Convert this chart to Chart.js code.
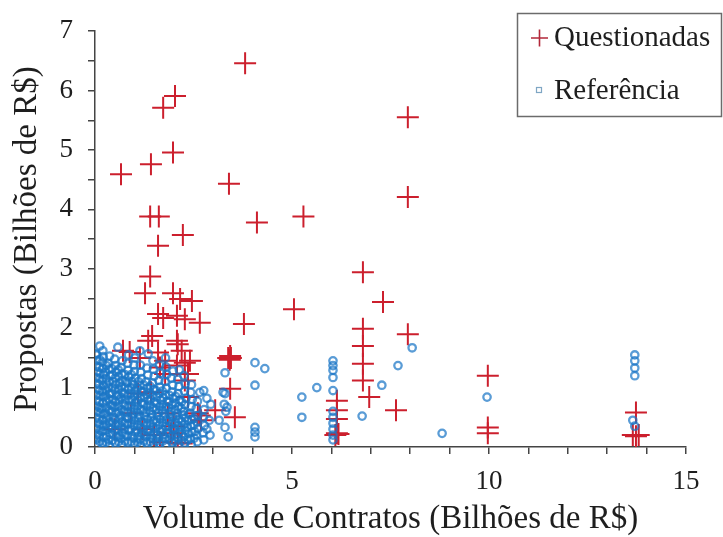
<!DOCTYPE html>
<html>
<head>
<meta charset="utf-8">
<script src="https://cdn.jsdelivr.net/npm/chart.js@4/dist/chart.umd.min.js"></script>
<style>
  html, body { margin: 0; padding: 0; background: #ffffff; }
  #wrap { width: 723px; height: 537px; }
</style>
</head>
<body>
<div id="wrap"><canvas id="c" width="723" height="537"></canvas></div>
<script>
// Series labels
const seriesNames = ['Questionadas', 'Referência'];
const axisTitles = { x: 'Volume de Contratos (Bilhões de R$)', y: 'Propostas (Bilhões de R$)' };

// Questionadas: [volume, proposta] in billions of R$
const questionadas = [
  [3.81,6.46],[2.03,5.91],[1.73,5.71],[1.98,4.96],[1.42,4.76],[0.66,4.59],[3.40,4.43],
  [1.40,3.88],[1.62,3.88],[4.11,3.78],[5.29,3.88],[2.23,3.57],[1.60,3.39],[7.94,5.55],[7.94,4.21],
  [6.80,2.94],[7.31,2.44],[5.05,2.32],[3.78,2.07],[6.80,1.99],[7.94,1.90],[6.80,1.70],[6.80,1.40],
  [6.80,1.12],[6.96,0.84],[7.64,0.62],
  [6.14,0.78],[6.14,0.62],[6.14,0.47],[6.14,0.23],[6.10,0.20],[6.18,0.22],
  [9.97,1.20],[9.97,0.33],[9.97,0.23],
  [13.73,0.58],[13.65,0.20],[13.80,0.20],[13.73,0.18],
  [3.38,1.50],[3.45,1.50],[3.42,1.47],[3.43,1.53],[3.43,0.98],[3.55,0.50],[3.05,0.62],[2.66,0.53],
  [2.69,0.45],[2.61,0.57],
  [1.40,2.87],[1.27,2.59],[1.98,2.59],[2.16,2.49],[2.46,2.46],[1.60,2.24],[2.08,2.21],[1.73,2.17],
  [2.28,2.15],[2.66,2.09],[1.45,1.87],[2.08,1.79],[0.71,1.62],[0.88,1.60],[1.60,1.59],[1.14,1.50],
  [2.41,1.45],[2.20,1.62],[1.65,1.34],[2.08,1.37],[1.35,1.79],[2.10,1.73],[1.78,1.45],[2.28,1.42],
  [1.78,1.23],[2.36,1.23],[2.28,1.12],[1.09,0.90],[1.42,0.92],[2.36,0.84],[1.85,0.57],[0.91,0.57],
  [1.93,0.23],[2.10,0.07],[1.65,0.08],[2.20,0.06],[1.50,0.20],[2.00,0.35],[1.20,0.30],[0.50,0.30]
];

// Referência: [volume, proposta] in billions of R$
const referencia = [
  [0.05,0.04],[0.03,0.13],[0.06,0.22],[0.04,0.31],[0.07,0.41],[0.03,0.50],[0.05,0.60],[0.06,0.69],
  [0.04,0.79],[0.03,0.88],[0.06,0.98],[0.05,1.07],[0.04,1.17],[0.06,1.27],[0.03,1.36],[0.05,1.46],[0.04,1.55],
  [0.19,0.06],[0.22,0.16],[0.18,0.26],[0.21,0.35],[0.20,0.45],[0.23,0.55],[0.17,0.64],[0.20,0.74],
  [0.22,0.84],[0.19,0.93],[0.21,1.03],[0.18,1.12],[0.22,1.22],[0.20,1.32],[0.19,1.43],[0.21,1.52],[0.20,1.62],
  [0.36,0.03],[0.34,0.12],[0.38,0.23],[0.35,0.33],[0.37,0.42],[0.33,0.52],[0.36,0.62],[0.39,0.71],
  [0.35,0.81],[0.37,0.90],[0.34,1.00],[0.36,1.10],[0.38,1.20],[0.35,1.31],[0.33,1.41],[0.37,1.53],
  [0.52,0.07],[0.55,0.17],[0.50,0.27],[0.53,0.37],[0.51,0.46],[0.54,0.57],[0.49,0.67],[0.52,0.76],
  [0.55,0.86],[0.50,0.96],[0.53,1.05],[0.51,1.16],[0.54,1.26],[0.52,1.37],[0.50,1.48],[0.58,1.68],
  [0.68,0.04],[0.66,0.14],[0.70,0.24],[0.67,0.34],[0.69,0.43],[0.65,0.53],[0.68,0.63],[0.71,0.73],
  [0.66,0.83],[0.69,0.92],[0.67,1.02],[0.70,1.12],[0.68,1.23],[0.66,1.34],[0.69,1.45],
  [0.84,0.08],[0.82,0.18],[0.86,0.28],[0.83,0.38],[0.85,0.48],[0.81,0.58],[0.84,0.68],[0.87,0.78],
  [0.83,0.87],[0.85,0.97],[0.82,1.08],[0.86,1.18],[0.84,1.29],[0.83,1.41],[0.85,1.55],
  [1.00,0.05],[0.98,0.15],[1.02,0.25],[0.99,0.35],[1.01,0.45],[0.97,0.55],[1.00,0.65],[1.03,0.75],
  [0.99,0.85],[1.01,0.95],[0.98,1.05],[1.02,1.16],[1.00,1.27],[0.99,1.38],[1.01,1.50],
  [1.16,0.03],[1.14,0.13],[1.18,0.23],[1.15,0.33],[1.17,0.43],[1.13,0.53],[1.16,0.63],[1.19,0.74],
  [1.15,0.84],[1.17,0.94],[1.14,1.04],[1.18,1.15],[1.16,1.26],[1.15,1.38],[1.14,1.62],
  [1.32,0.07],[1.30,0.17],[1.34,0.27],[1.31,0.37],[1.33,0.47],[1.29,0.58],[1.32,0.68],[1.35,0.78],
  [1.31,0.88],[1.33,0.99],[1.30,1.10],[1.34,1.21],[1.32,1.33],[1.35,1.57],
  [1.48,0.04],[1.46,0.14],[1.50,0.24],[1.47,0.34],[1.49,0.45],[1.45,0.55],[1.48,0.66],[1.51,0.76],
  [1.47,0.87],[1.49,0.97],[1.46,1.08],[1.50,1.19],[1.48,1.31],[1.47,1.45],
  [1.64,0.06],[1.62,0.16],[1.66,0.26],[1.63,0.37],[1.65,0.47],[1.61,0.58],[1.64,0.68],[1.67,0.79],
  [1.63,0.90],[1.65,1.01],[1.62,1.12],[1.66,1.24],[1.64,1.38],
  [1.80,0.04],[1.78,0.15],[1.82,0.25],[1.79,0.35],[1.81,0.46],[1.77,0.56],[1.80,0.67],[1.83,0.77],
  [1.79,0.88],[1.81,0.99],[1.78,1.10],[1.82,1.22],[1.80,1.35],[1.79,1.50],
  [1.96,0.08],[1.94,0.18],[1.98,0.29],[1.95,0.39],[1.97,0.50],[1.93,0.60],[1.96,0.71],[1.99,0.82],
  [1.95,0.93],[1.97,1.04],[1.94,1.16],[1.98,1.28],
  [2.12,0.05],[2.10,0.15],[2.14,0.26],[2.11,0.36],[2.13,0.47],[2.09,0.57],[2.12,0.68],[2.15,0.79],
  [2.11,0.90],[2.13,1.02],[2.10,1.14],[2.14,1.30],
  [2.28,0.07],[2.26,0.17],[2.30,0.28],[2.27,0.38],[2.29,0.49],[2.25,0.60],[2.28,0.71],[2.31,0.82],
  [2.27,0.94],[2.29,1.06],[2.26,1.20],
  [2.44,0.04],[2.42,0.14],[2.46,0.25],[2.43,0.36],[2.45,0.46],[2.41,0.57],[2.44,0.68],[2.47,0.80],
  [2.43,0.92],[2.45,1.05],
  [2.60,0.09],[2.58,0.20],[2.62,0.31],[2.59,0.42],[2.61,0.53],[2.57,0.65],[2.60,0.77],[2.66,0.92],
  [2.76,0.12],[2.74,0.24],[2.78,0.36],[2.75,0.50],[2.77,0.63],[2.84,0.82],[2.76,0.95],
  [2.92,0.20],[2.84,0.30],[2.90,0.45],[2.94,0.72],
  // inner cluster, between the rows above
  [0.12,0.09],[0.11,0.19],[0.13,0.28],[0.12,0.38],[0.10,0.47],[0.13,0.57],[0.12,0.66],[0.11,0.76],
  [0.13,0.86],[0.12,0.95],[0.10,1.05],[0.12,1.15],[0.13,1.24],[0.11,1.34],[0.12,1.47],
  [0.28,0.08],[0.29,0.18],[0.27,0.28],[0.28,0.38],[0.30,0.48],[0.27,0.57],[0.28,0.67],[0.29,0.77],
  [0.27,0.86],[0.28,0.96],[0.30,1.06],[0.28,1.15],[0.27,1.26],[0.29,1.37],
  [0.44,0.11],[0.45,0.21],[0.43,0.31],[0.44,0.41],[0.46,0.50],[0.43,0.60],[0.44,0.70],[0.45,0.80],
  [0.43,0.90],[0.44,1.00],[0.46,1.10],[0.44,1.21],[0.43,1.32],
  [0.60,0.09],[0.61,0.19],[0.59,0.29],[0.60,0.39],[0.62,0.49],[0.59,0.59],[0.60,0.69],[0.61,0.79],
  [0.59,0.88],[0.60,0.98],[0.62,1.08],[0.60,1.19],[0.59,1.30],
  [0.76,0.10],[0.77,0.20],[0.75,0.30],[0.76,0.40],[0.78,0.50],[0.75,0.60],[0.76,0.70],[0.77,0.80],
  [0.75,0.90],[0.76,1.00],[0.78,1.10],[0.76,1.22],
  [0.92,0.09],[0.93,0.19],[0.91,0.30],[0.92,0.40],[0.94,0.50],[0.91,0.60],[0.92,0.70],[0.93,0.80],
  [0.91,0.90],[0.92,1.00],[0.94,1.10],[0.92,1.22],
  [1.08,0.08],[1.09,0.18],[1.07,0.28],[1.08,0.38],[1.10,0.49],[1.07,0.59],[1.08,0.69],[1.09,0.79],
  [1.07,0.89],[1.08,0.99],[1.10,1.10],
  [1.24,0.10],[1.25,0.20],[1.23,0.30],[1.24,0.41],[1.26,0.52],[1.23,0.62],[1.24,0.72],[1.25,0.83],
  [1.23,0.93],[1.24,1.04],
  [1.40,0.09],[1.41,0.19],[1.39,0.30],[1.40,0.40],[1.42,0.50],[1.39,0.61],[1.40,0.71],[1.41,0.81],
  [1.39,0.92],[1.40,1.02],
  [1.56,0.10],[1.57,0.20],[1.55,0.31],[1.56,0.42],[1.58,0.52],[1.55,0.63],[1.56,0.73],[1.57,0.84],
  [1.55,0.95],
  [1.72,0.10],[1.73,0.20],[1.71,0.30],[1.72,0.41],[1.74,0.51],[1.71,0.62],[1.72,0.72],[1.73,0.83],
  [1.71,0.94],
  [1.88,0.12],[1.89,0.23],[1.87,0.34],[1.88,0.44],[1.90,0.55],[1.87,0.66],[1.88,0.76],[1.89,0.87],
  [2.04,0.10],[2.05,0.21],[2.03,0.31],[2.04,0.42],[2.06,0.52],[2.03,0.63],[2.04,0.74],[2.05,0.85],
  [2.20,0.11],[2.21,0.22],[2.19,0.33],[2.20,0.43],[2.22,0.54],[2.19,0.65],[2.20,0.76],
  [2.36,0.12],[2.37,0.23],[2.35,0.33],[2.36,0.44],[2.38,0.55],
  [2.52,0.15],[2.53,0.26],[2.51,0.37],[2.52,0.48],
  // outlying points
  [0.02,1.57],[0.12,1.70],[3.30,1.25],[3.30,0.90],[3.28,0.72],[3.32,0.60],[3.30,0.33],[3.38,0.17],
  [3.25,0.92],[3.35,0.67],[3.15,0.45],[4.06,1.42],[4.31,1.32],[4.06,1.04],[4.06,0.33],[4.06,0.25],
  [4.06,0.17],[5.25,0.84],[5.25,0.50],[5.63,1.00],
  [6.04,1.45],[6.04,1.37],[6.04,1.29],[6.04,1.17],[6.04,0.95],[6.04,0.60],[6.04,0.50],[6.04,0.40],
  [6.04,0.30],[6.04,0.20],[6.04,0.12],
  [6.78,0.52],[7.28,1.04],[7.69,1.37],[8.05,1.67],[8.81,0.23],[9.95,0.84],
  [13.70,1.55],[13.70,1.45],[13.70,1.33],[13.70,1.20],[13.65,0.45],[13.70,0.35]
];

// Axis ranges and label steps
const xRange = [0, 15];
const yRange = [0, 7];
const xLabelEvery = 5;
const yLabelEvery = 1;

const toXY = pts => pts.map(p => ({ x: p[0], y: p[1] }));

const FONT = "'Liberation Serif', 'Times New Roman', serif";
const INK = '#1e1e1e';
const AXIS = '#444444';
const RED = '#cc1f2d';
const BLUE = 'rgba(26,118,198,0.72)';

// Boxed legend in the upper right corner
const boxLegend = {
  id: 'boxLegend',
  afterDraw(chart) {
    const ctx = chart.ctx;
    ctx.save();
    ctx.strokeStyle = '#6b6b6b';
    ctx.lineWidth = 1.5;
    ctx.fillStyle = '#ffffff';
    ctx.fillRect(517.5, 13.5, 204, 103);
    ctx.strokeRect(517.5, 13.5, 204, 103);

    // cross marker
    ctx.strokeStyle = '#b3283a';
    ctx.lineWidth = 1.6;
    ctx.beginPath();
    ctx.moveTo(531, 38); ctx.lineTo(548, 38);
    ctx.moveTo(539.5, 29.5); ctx.lineTo(539.5, 46.5);
    ctx.stroke();

    // square marker
    ctx.strokeStyle = '#7fa6c4';
    ctx.lineWidth = 1.2;
    ctx.strokeRect(536.5, 87.5, 5, 5);

    ctx.fillStyle = INK;
    ctx.font = '29px ' + FONT;
    ctx.textBaseline = 'middle';
    ctx.textAlign = 'left';
    ctx.fillText(chart.data.datasets[0].label, 554, 38);
    ctx.fillText(chart.data.datasets[1].label, 554, 91);
    ctx.restore();
  }
};

const whiteBg = {
  id: 'whiteBg',
  beforeDraw(chart) {
    const ctx = chart.ctx;
    ctx.save();
    ctx.fillStyle = '#ffffff';
    ctx.fillRect(0, 0, chart.width, chart.height);
    ctx.restore();
  }
};

new Chart(document.getElementById('c'), {
  type: 'scatter',
  data: {
    datasets: [
      {
        label: seriesNames[0],
        data: toXY(questionadas),
        pointStyle: 'cross',
        pointRadius: 11,
        pointBorderWidth: 2,
        borderColor: RED,
        backgroundColor: RED,
        order: 1
      },
      {
        label: seriesNames[1],
        data: toXY(referencia),
        pointStyle: 'circle',
        pointRadius: 3.7,
        pointBorderWidth: 2.3,
        borderColor: BLUE,
        backgroundColor: 'rgba(0,0,0,0)',
        order: 0
      }
    ]
  },
  options: {
    responsive: false,
    animation: false,
    events: [],
    layout: { padding: { left: 0, right: 37, top: 28, bottom: 0 } },
    plugins: {
      legend: { display: false },
      tooltip: { enabled: false }
    },
    scales: {
      x: {
        type: 'linear',
        min: xRange[0],
        max: xRange[1],
        afterFit(scale) { scale.height = 90; },
        border: { display: true, color: AXIS, width: 1.5 },
        grid: { display: true, drawOnChartArea: false, drawTicks: true, tickLength: 7, color: AXIS, lineWidth: 1.5 },
        ticks: {
          stepSize: 1,
          padding: 12,
          maxRotation: 0,
          autoSkip: false,
          color: INK,
          font: { family: FONT, size: 27 },
          callback: v => (v % xLabelEvery === 0 ? String(v) : '')
        },
        title: {
          display: true,
          text: axisTitles.x,
          color: INK,
          font: { family: FONT, size: 33, lineHeight: 1 },
          padding: { top: 0, bottom: 1 }
        }
      },
      y: {
        type: 'linear',
        min: yRange[0],
        max: yRange[1],
        afterFit(scale) { scale.width = 95; },
        border: { display: true, color: AXIS, width: 1.5 },
        grid: { display: true, drawOnChartArea: false, drawTicks: true, tickLength: 7, color: AXIS, lineWidth: 1.5 },
        ticks: {
          stepSize: 0.5,
          padding: 15,
          autoSkip: false,
          color: INK,
          font: { family: FONT, size: 27 },
          callback: v => (v % yLabelEvery === 0 ? String(v) : '')
        },
        title: {
          display: true,
          text: axisTitles.y,
          color: INK,
          font: { family: FONT, size: 33, lineHeight: 1 },
          padding: { top: 11, bottom: 0 }
        }
      }
    }
  },
  plugins: [whiteBg, boxLegend]
});
</script>
</body>
</html>
